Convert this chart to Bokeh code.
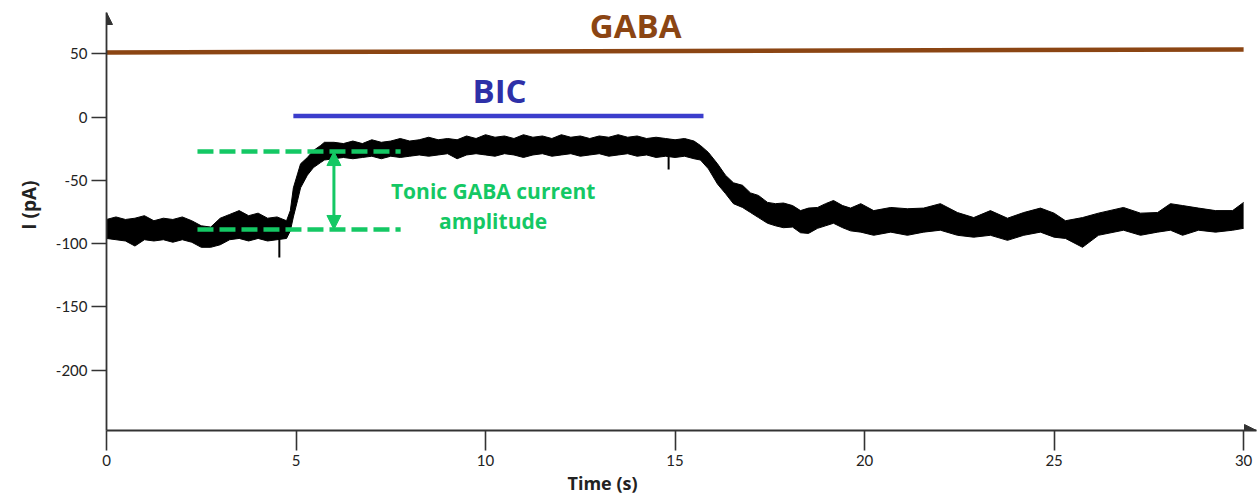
import math
from bokeh.plotting import figure
from bokeh.models import Range1d, Label, Arrow, NormalHead, FixedTicker, Title
from bokeh.embed import file_html
from bokeh.resources import INLINE

# ---- recorded current trace, read as upper / lower envelope (pA) ----
time_s = [0.00, 0.25, 0.50, 0.75, 1.00, 1.25, 1.50, 1.75, 2.00, 2.25,
          2.50, 2.75, 3.00, 3.25, 3.50, 3.75, 4.00, 4.25, 4.50, 4.75,
          4.85, 4.93, 5.04, 5.12, 5.30, 5.46, 5.65, 5.75,
          6.00, 6.25, 6.50, 6.75, 7.00, 7.25, 7.50, 7.75, 8.00, 8.25,
          8.50, 8.75, 9.00, 9.25, 9.50, 9.75, 10.00, 10.25, 10.50, 10.75,
          11.00, 11.25, 11.50, 11.75, 12.00, 12.25, 12.50, 12.75, 13.00, 13.25,
          13.50, 13.75, 14.00, 14.25, 14.50, 14.75, 15.00, 15.25, 15.50,
          15.67, 15.88, 16.12, 16.33, 16.54, 16.78, 16.99, 17.20, 17.44, 17.65,
          17.86, 18.10, 18.31, 18.52, 18.76, 18.97, 19.18, 19.42, 19.63,
          19.90, 20.24, 20.69, 21.13, 21.56, 22.00, 22.45, 22.88, 23.32, 23.77,
          24.20, 24.64, 25.00, 25.30, 25.75, 26.17, 26.83, 27.28, 27.73, 28.07,
          28.39, 28.81, 29.26, 29.71, 30.00]
upper_pA = [-81, -79, -81, -80, -78, -82, -80, -81, -79, -82,
            -86, -87, -80, -77, -74, -78, -76, -80, -79, -82,
            -74, -56, -45, -37, -32, -26.5, -22.5, -20,
            -20, -21, -19, -21, -18, -20, -19, -17, -19, -18,
            -16, -18, -17, -18, -15, -17, -14, -16, -15, -17,
            -14, -16, -15, -17, -14, -16, -15, -17, -15, -16,
            -14, -16, -15, -17, -16, -17, -18, -17, -19,
            -22.5, -28, -37, -46, -52, -54, -60, -62, -67.5, -68.5,
            -68, -70, -74, -72, -71.5, -68.5, -66, -70, -72,
            -68.5, -74, -71.5, -72.5, -72, -68.5, -75.5, -79.5, -74, -80,
            -75.5, -72, -76, -82, -79.5, -76, -71.5, -76, -75.5, -68.5,
            -70, -72, -74, -74, -67.5]
lower_pA = [-96, -97, -98, -102, -97, -98, -97, -99, -97, -99,
            -103, -103, -101, -97, -96, -98, -96, -98, -97, -96,
            -90, -79, -66, -56, -46, -40, -36, -34,
            -33, -32, -33, -32, -31, -33, -31, -32, -31, -30,
            -31, -30, -29, -33, -30, -29, -30, -31, -29, -30,
            -32, -30, -29, -31, -30, -29, -31, -30, -29, -31,
            -30, -29, -31, -30, -32, -31, -32, -31, -33,
            -34, -41, -53, -60.5, -68.5, -71.5, -75.5, -79.5, -84, -86,
            -87.5, -87, -91.5, -92, -88, -86, -84, -87.5, -90,
            -91, -93.5, -91, -93.5, -91, -89.5, -93.5, -95, -93.5, -97.5,
            -93.5, -91, -95, -96, -103, -93.5, -89.5, -93.5, -91, -89.5,
            -93.5, -89.5, -91, -89.5, -88]

# isolated transients in the trace
spike_t = [4.56, 14.83]
spike_from = [-96, -31]
spike_to = [-111, -41.5]

# drug application bars
gaba_t = [0.0, 30.0]
gaba_y = [51.0, 53.4]
bic_t = [4.93, 15.75]
bic_y = [0.8, 0.8]

# tonic current amplitude markers
tonic_t = [2.40, 7.76]
tonic_peak = -27.3
tonic_base = -88.9
tonic_arrow_t = 6.0

x_ticks = [0, 5, 10, 15, 20, 25, 30]
y_ticks = [50, 0, -50, -100, -150, -200]

GREEN = "#14C864"
BROWN = "#8B4513"
AXIS = "#333333"

p = figure(width=1260, height=495,
           x_range=Range1d(0, 30.34), y_range=Range1d(-247.8, 82.6),
           output_backend="svg", toolbar_location=None,
           min_border_left=106, min_border_right=4,
           min_border_top=12, min_border_bottom=65)
p.outline_line_color = None
p.grid.visible = False
p.background_fill_color = "white"

for ax, ticks, out in ((p.xaxis, x_ticks, 20), (p.yaxis, y_ticks, 15)):
    ax.ticker = FixedTicker(ticks=ticks)
    ax.major_label_overrides = {t: str(t) for t in ticks}
    ax.minor_tick_line_color = None
    ax.major_tick_in = 0
    ax.major_tick_out = out
    ax.major_tick_line_color = AXIS
    ax.major_tick_line_width = 1.6
    ax.axis_line_color = AXIS
    ax.axis_line_width = 1.8
    ax.major_label_text_font = "Lato"
    ax.major_label_text_font_size = "15px"
    ax.major_label_text_color = "#222222"
    ax.major_label_standoff = 4

# axis titles
p.add_layout(Title(text="Time (s)", align="left", offset=461, standoff=0,
                   text_font="Open Sans", text_font_style="bold",
                   text_font_size="18px", text_color="#222222"), "below")
p.add_layout(Title(text="I (pA)", align="right", offset=168, standoff=22,
                   text_font="Open Sans", text_font_style="bold",
                   text_font_size="19px", text_color="#222222"), "left")

# axis arrow heads
p.add_layout(Arrow(end=NormalHead(size=12, fill_color=AXIS, line_color=AXIS),
                   x_start=0, y_start=60, x_end=0, y_end=82.6, line_alpha=0))
p.add_layout(Arrow(end=NormalHead(size=12, fill_color=AXIS, line_color=AXIS),
                   x_start=29.5, y_start=-247.8, x_end=30.34, y_end=-247.8, line_alpha=0))

# trace
p.varea(x=time_s, y1=lower_pA, y2=upper_pA, fill_color="black")
p.line(time_s, upper_pA, line_color="black", line_width=1.0)
p.line(time_s, lower_pA, line_color="black", line_width=1.0)
p.segment(x0=spike_t, y0=spike_from, x1=spike_t, y1=spike_to,
          line_color="black", line_width=2)

# drug bars
p.line(gaba_t, gaba_y, line_color=BROWN, line_width=4.5, line_cap="butt")
p.line(bic_t, bic_y, line_color="#3B3DCC", line_width=4.5, line_cap="butt")

# tonic dashed lines and arrow
p.line(tonic_t, [tonic_peak, tonic_peak], line_color=GREEN, line_width=4.5, line_dash="16 6")
p.line(tonic_t, [tonic_base, tonic_base], line_color=GREEN, line_width=4.5, line_dash="16 6")
p.add_layout(Arrow(start=NormalHead(size=14, fill_color=GREEN, line_color=GREEN),
                   end=NormalHead(size=14, fill_color=GREEN, line_color=GREEN),
                   x_start=tonic_arrow_t, y_start=tonic_base,
                   x_end=tonic_arrow_t, y_end=tonic_peak,
                   line_color=GREEN, line_width=3))

def lab(x, y, text, size, color):
    p.add_layout(Label(x=x, y=y, text=text, text_align="center", text_baseline="middle",
                       text_font="Open Sans", text_font_style="bold",
                       text_font_size=size, text_color=color))

lab(13.96, 72.3, "GABA", "33px", BROWN)
lab(10.37, 21.0, "BIC", "33px", "#2E30A8")
lab(10.2, -58.6, "Tonic GABA current", "21px", GREEN)
lab(10.2, -82.0, "amplitude", "21px", GREEN)

open("out.html", "w").write(file_html(p, INLINE))
